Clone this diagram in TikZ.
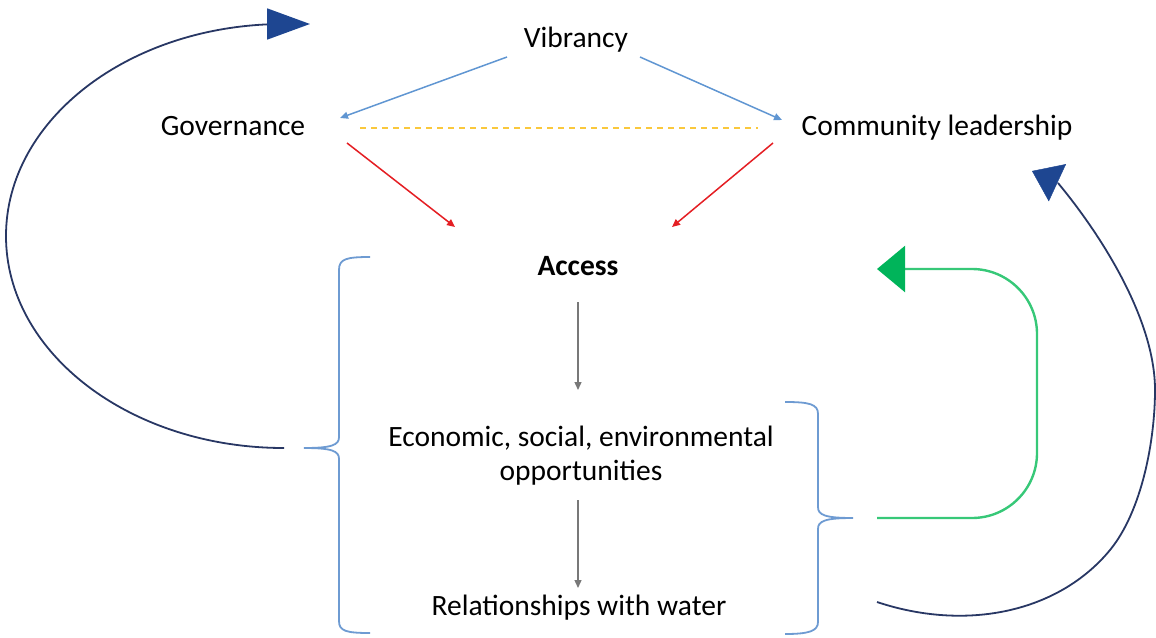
\documentclass[tikz,border=0pt]{standalone}
\usepackage{fontspec}
\setmainfont{Carlito}
\usetikzlibrary{arrows.meta}
\definecolor{linkblue}{RGB}{96,150,210}
\definecolor{bracecol}{RGB}{110,155,210}
\definecolor{leadred}{RGB}{228,30,35}
\definecolor{tiegold}{RGB}{250,200,60}
\definecolor{flowgray}{RGB}{120,120,120}
\definecolor{loopnavy}{RGB}{40,55,100}
\definecolor{headnavy}{RGB}{30,70,145}
\definecolor{loopgreen}{RGB}{55,200,120}
\definecolor{headgreen}{RGB}{0,180,90}
\begin{document}
\begin{tikzpicture}[x=1pt,y=-1pt,
  lbl/.style={font=\fontsize{29.5}{35}\selectfont, inner sep=0pt, anchor=base},
  smalltip/.style={-{Triangle[length=8pt,width=7pt]}},
  pathblue/.style={draw=linkblue, line width=1.5pt, smalltip},
  pathred/.style={draw=leadred, line width=1.5pt, smalltip},
  pathgray/.style={draw=flowgray, line width=1.4pt, smalltip},
  tie/.style={draw=tiegold, line width=1.5pt, dash pattern=on 6pt off 5pt},
  brace/.style={draw=bracecol, line width=1.8pt},
  loopnv/.style={draw=loopnavy, line width=1.8pt},
  loopgr/.style={draw=loopgreen, line width=2.4pt, rounded corners=65pt}]
\useasboundingbox (0,0) rectangle (1156,637);

% labels
\node[lbl] (vib) at (576,47) {Vibrancy};
\node[lbl] (gov) at (233,135) {Governance};
\node[lbl] (com) at (937,135) {Community leadership};
\node[lbl] (acc) at (578,275) {\bfseries Access};
\node[font=\fontsize{29.5}{34}\selectfont, inner sep=0pt, align=center] (eco) at (581,456)
  {Economic, social, environmental\\opportunities};
\node[lbl] (rel) at (579,615) {Relationships with water};

% connector end points
\coordinate (vibL) at (507,57);
\coordinate (vibR) at (640,57);
\coordinate (govIn) at (340,118);
\coordinate (comIn) at (782,120);
\coordinate (govTie) at (360,128);
\coordinate (comTie) at (758,128);
\coordinate (govOut) at (347,143);
\coordinate (comOut) at (773,143);
\coordinate (accInL) at (455,227);
\coordinate (accInR) at (672,227);
\coordinate (accOut) at (578,302);
\coordinate (ecoIn) at (578,390);
\coordinate (ecoOut) at (578,500);
\coordinate (relIn) at (578,588);

% top triangle of links
\draw[pathblue] (vibL) -- (govIn);
\draw[pathblue] (vibR) -- (comIn);
\draw[tie] (govTie) -- (comTie);
\draw[pathred] (govOut) -- (accInL);
\draw[pathred] (comOut) -- (accInR);

% vertical flow
\draw[pathgray] (accOut) -- (ecoIn);
\draw[pathgray] (ecoOut) -- (relIn);

% left brace around the whole column
\coordinate (lbTip) at (304,448);
\draw[brace] (370,257) .. controls (346,257) and (339,259) .. (339,270)
  -- (339,437) .. controls (339,445) and (332,448) .. (lbTip)
  .. controls (332,448) and (339,451) .. (339,459)
  -- (339,621) .. controls (339,631) and (346,633) .. (370,633);

% right brace around the lower part
\coordinate (rbTip) at (853,518);
\draw[brace] (785,402) .. controls (809,402) and (818,404) .. (818,414)
  -- (818,507) .. controls (818,515) and (825,518) .. (rbTip)
  .. controls (825,518) and (818,521) .. (818,529)
  -- (818,622) .. controls (818,631) and (809,634) .. (785,634);

% feedback loops
\coordinate (leftStart) at (284,448);
\coordinate (govTop) at (310,24);
\draw[loopnv, -{Triangle[length=43pt,width=31pt,fill=headnavy,color=headnavy]}]
  (leftStart) arc[start angle=270, end angle=90, x radius=278pt, y radius=212pt]
  -- (govTop);

\coordinate (rightStart) at (877,602);
\coordinate (comTip) at (1032,171);
\draw[loopnv]
  (rightStart) .. controls (967,632) and (1059,612) .. (1110,550)
  .. controls (1142,511) and (1155,440) .. (1155,390)
  .. controls (1155,320) and (1102,236) .. (1058,183);
\draw[headnavy, -{Triangle[length=28pt,width=41pt,fill=headnavy,color=headnavy]}]
  (1058,183) -- (comTip);

\coordinate (greenStart) at (877,518);
\coordinate (accTip) at (877,269);
\draw[loopgr, -{Triangle[length=28pt,width=46pt,fill=headgreen,color=headgreen]}]
  (greenStart) -| (1037,269) -- (accTip);
\end{tikzpicture}
\end{document}
